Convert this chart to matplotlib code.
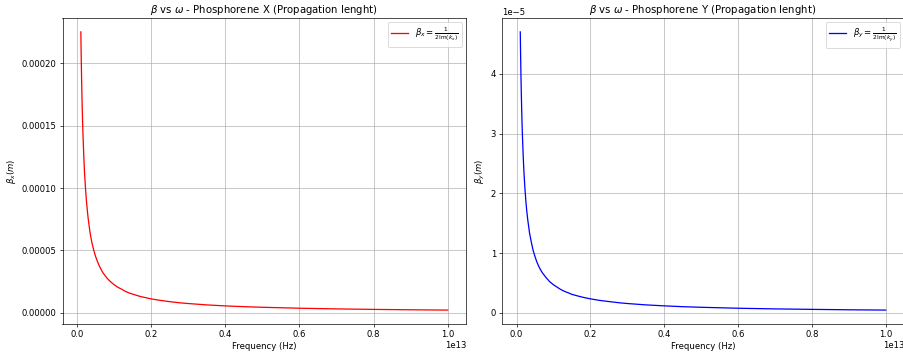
import matplotlib
matplotlib.use("Agg")
import matplotlib.pyplot as plt

# ==============================================================================
# Data (frequency in Hz, beta in m)
# ==============================================================================
freq_thz = [0.1, 0.11, 0.12, 0.13, 0.14, 0.15, 0.16, 0.18, 0.2, 0.225, 0.25,
            0.275, 0.3, 0.35, 0.4, 0.45, 0.5, 0.55, 0.6, 0.65, 0.7, 0.75, 0.8,
            0.9, 1.0, 1.1, 1.2, 1.3, 1.4, 1.5, 1.7, 1.85, 2.0, 2.25, 2.5, 2.8,
            3.0, 3.5, 4.0, 4.5, 5.0, 6.0, 7.0, 8.0, 9.0, 10.0]
freq = [f * 1e12 for f in freq_thz]

# beta_x, units of 1e-5 m
beta_x_e5 = [22.5, 20.5, 18.8, 17.3, 16.1, 15.0, 14.1, 12.5, 11.2, 10.0, 9.0,
             8.2, 7.5, 6.4, 5.6, 5.0, 4.5, 4.1, 3.75, 3.46, 3.2, 3.0, 2.8,
             2.5, 2.25, 2.05, 1.9, 1.73, 1.6, 1.5, 1.32, 1.22, 1.12, 1.0, 0.9,
             0.8, 0.75, 0.64, 0.56, 0.5, 0.45, 0.375, 0.32, 0.28, 0.25, 0.225]
# beta_y, units of 1e-6 m
beta_y_e6 = [47.0, 42.7, 39.2, 36.2, 33.6, 31.3, 29.4, 26.1, 23.5, 20.9, 18.8,
             17.1, 15.7, 13.4, 11.8, 10.4, 9.4, 8.5, 7.8, 7.2, 6.7, 6.3, 5.9,
             5.2, 4.7, 4.3, 3.9, 3.6, 3.36, 3.1, 2.76, 2.54, 2.35, 2.09, 1.9,
             1.68, 1.57, 1.34, 1.18, 1.04, 0.94, 0.78, 0.67, 0.59, 0.52, 0.47]

beta_x = [v * 1e-5 for v in beta_x_e5]
beta_y = [v * 1e-6 for v in beta_y_e6]

W, H = 903, 357
DPI = 61
fig = plt.figure(figsize=(W / DPI, H / DPI), dpi=DPI)

def frac(x0, y0, x1, y1):
    return [x0 / W, 1 - y1 / H, (x1 - x0) / W, (y1 - y0) / H]

ax1 = fig.add_axes(frac(62.5, 18, 466, 324))
ax2 = fig.add_axes(frac(502, 18, 904, 324))

# --- Phosphorene X ---
ax1.plot(freq, beta_x, color='red', label=r'$\beta_x = \frac{1}{2\mathrm{Im}(k_x)}$')
ax1.set_title(r"$\beta$ vs $\omega$ - Phosphorene X (Propagation lenght)")
ax1.set_xlabel("Frequency (Hz)")
ax1.set_ylabel(r"$\beta_x (m)$")
ax1.grid(True)
ax1.legend(loc='upper right')

# --- Phosphorene Y ---
ax2.plot(freq, beta_y, color='blue', label=r'$\beta_y = \frac{1}{2\mathrm{Im}(k_y)}$')
ax2.set_title(r"$\beta$ vs $\omega$ - Phosphorene Y (Propagation lenght)")
ax2.set_xlabel("Frequency (Hz)")
ax2.set_ylabel(r"$\beta_y (m)$")
ax2.grid(True)
ax2.legend(loc='upper right')

plt.savefig("out.png", dpi=DPI)
plt.close()
